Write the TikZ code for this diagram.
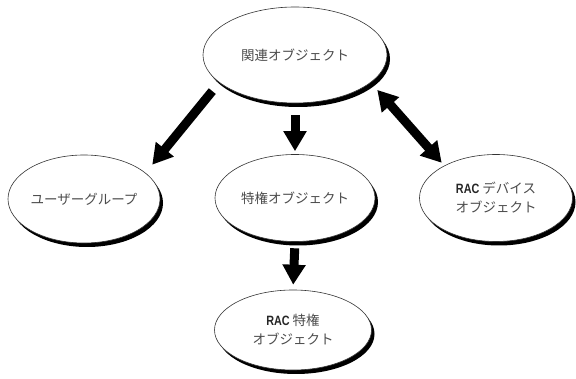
\documentclass[tikz,border=0pt]{standalone}
\usepackage{fontspec}
\setmainfont{Noto Sans CJK JP}
\newfontfamily\racfont[FakeStretch=0.8]{Liberation Sans}
\usetikzlibrary{shapes.geometric,arrows.meta,shadows}

\begin{document}
\begin{tikzpicture}[x=1pt,y=-1pt]
    % width of the arrow shafts
    \def\lw{9pt}
    % node style definition
    \tikzstyle{obj} = [
    	draw=black!80, line width=0.6pt, fill=white, ellipse, inner sep=0pt,
    	drop shadow={shadow xshift=3pt, shadow yshift=-4pt, opacity=1, fill=black},
    	align=center, text=black!70, font=\fontsize{13.5}{19}\selectfont ];
    \tikzstyle{bigarrow} = [line width=\lw, -{Triangle[width=22pt,length=20pt]}];
    \tikzstyle{bigboth} = [line width=\lw,
    	{Triangle[width=22pt,length=20pt]}-{Triangle[width=22pt,length=20pt]}];
    % bold narrow label
    \def\rac{{\racfont\bfseries\color{black!85}RAC}}
    \useasboundingbox (0,0) rectangle (576,379);
    % objects
    \node[obj, minimum width=184pt, minimum height=96pt] (rel) at (295,55) {関連オブジェクト};
    \node[obj, minimum width=152pt, minimum height=88pt] (user) at (84,199) {ユーザーグループ};
    \node[obj, minimum width=160pt, minimum height=87pt] (priv) at (295,198) {特権オブジェクト};
    \node[obj, minimum width=153pt, minimum height=87pt] (racdev) at (496,198) {\rac{} デバイス\\オブジェクト};
    \node[obj, minimum width=157pt, minimum height=80pt] (racpriv) at (293,330) {\rac{} 特権\\オブジェクト};
    % arrows
    \draw[bigarrow, shorten <=11pt, shorten >=10.5pt] (rel.200) -- (user.23);
    \draw[bigarrow, shorten <=12pt, shorten >=3pt] (rel.south) -- (priv.north);
    \draw[bigarrow, shorten <=6.5pt, shorten >=5pt] (priv.south) -- (racpriv.north);
    \draw[bigboth, shorten <=9.8pt, shorten >=3.8pt] (rel.340) -- (racdev.148);
\end{tikzpicture}
\end{document}
